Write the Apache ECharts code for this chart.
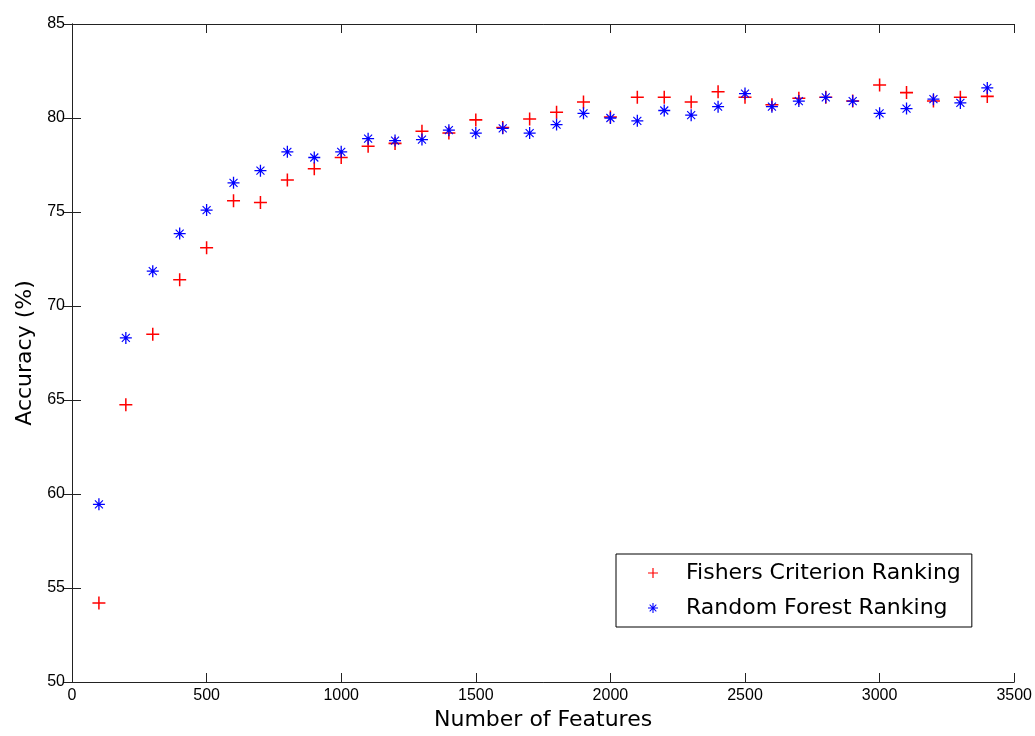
<!DOCTYPE html>
<html>
<head>
<meta charset="utf-8">
<script src="https://cdn.jsdelivr.net/npm/echarts@6/dist/echarts.min.js"></script>
<style>
  html, body { margin: 0; padding: 0; background: #fff; }
  #chart { width: 1035px; height: 736px; }
</style>
</head>
<body>
<div id="chart"></div>
<script>
// Number of selected features
const features = [100, 200, 300, 400, 500, 600, 700, 800, 900, 1000,
  1100, 1200, 1300, 1400, 1500, 1600, 1700, 1800, 1900, 2000,
  2100, 2200, 2300, 2400, 2500, 2600, 2700, 2800, 2900, 3000,
  3100, 3200, 3300, 3400];

// Accuracy (%) with features ranked by Fisher's criterion
const fisherAccuracy = [54.2, 64.75, 68.5, 71.4, 73.1, 75.6, 75.5, 76.7, 77.3, 77.9,
  78.5, 78.65, 79.3, 79.2, 79.9, 79.5, 79.95, 80.3, 80.85, 80.05,
  81.1, 81.1, 80.85, 81.4, 81.1, 80.7, 81.05, 81.1, 80.9, 81.75,
  81.35, 80.9, 81.1, 81.15];

// Accuracy (%) with features ranked by random forest importance
const forestAccuracy = [59.45, 68.3, 71.85, 73.85, 75.1, 76.55, 77.2, 78.2, 77.9, 78.2,
  78.9, 78.8, 78.85, 79.35, 79.2, 79.45, 79.2, 79.65, 80.25, 80.0,
  79.85, 80.4, 80.15, 80.6, 81.3, 80.6, 80.9, 81.1, 80.9, 80.25,
  80.5, 81.0, 80.8, 81.6];

const seriesNames = ['Fishers Criterion Ranking', 'Random Forest Ranking'];

// Marker shapes: a plus sign and an asterisk (plus with diagonals and a centre dot)
const plusPath = 'path://M5.3,0H6.7V12H5.3Z M0,5.3H12V6.7H0Z';
const starPath = 'path://M5.35,0H6.65V12H5.35Z M0,5.35H12V6.65H0Z ' +
  'M2.4,1.6L10.4,9.6L9.6,10.4L1.6,2.4Z M9.6,1.6L10.4,2.4L2.4,10.4L1.6,9.6Z ' +
  'M4.4,4.4H7.6V7.6H4.4Z';

const pairs = (xs, ys) => xs.map((x, i) => [x, ys[i]]);
const plainNumber = v => String(v);

const axisCommon = {
  axisLine: { show: true, lineStyle: { color: '#222', width: 1 } },
  axisTick: { show: true, inside: true, length: 9, lineStyle: { color: '#222', width: 1 } },
  splitLine: { show: false }
};

const labelFont = { fontFamily: 'Liberation Sans', fontSize: 16, color: '#000' };
const titleFont = { fontFamily: 'DejaVu Sans', fontSize: 22, color: '#000' };

const chart = echarts.init(document.getElementById('chart'), null, { renderer: 'canvas' });

chart.setOption({
  animation: false,
  backgroundColor: '#fff',
  grid: { left: 72, right: 18, top: 24, bottom: 52, containLabel: false },
  xAxis: [
    Object.assign({
      type: 'value', position: 'bottom', min: 0, max: 3500, interval: 500,
      name: 'Number of Features', nameLocation: 'middle', nameGap: 27,
      nameTextStyle: titleFont,
      axisLabel: Object.assign({ margin: 6, showMinLabel: true, showMaxLabel: true, formatter: plainNumber }, labelFont)
    }, axisCommon),
    Object.assign({
      type: 'value', position: 'top', min: 0, max: 3500, interval: 500,
      axisLabel: { show: false }
    }, axisCommon)
  ],
  yAxis: [
    Object.assign({
      type: 'value', position: 'left', min: 50, max: 85, interval: 5,
      name: 'Accuracy (%)', nameLocation: 'middle', nameGap: 36,
      nameTextStyle: titleFont,
      axisLabel: Object.assign({ margin: 7, showMinLabel: true, showMaxLabel: true, formatter: plainNumber }, labelFont)
    }, axisCommon),
    Object.assign({
      type: 'value', position: 'right', min: 50, max: 85, interval: 5,
      axisLabel: { show: false }
    }, axisCommon)
  ],
  legend: {
    orient: 'vertical',
    left: 616, top: 554,
    padding: [8, 11, 8, 32],
    itemWidth: 10, itemHeight: 10, itemGap: 13,
    borderColor: '#000', borderWidth: 1, backgroundColor: '#fff',
    textStyle: Object.assign({ padding: [0, 0, 0, 23] }, titleFont),
    data: [
      { name: seriesNames[0], icon: plusPath },
      { name: seriesNames[1], icon: starPath }
    ]
  },
  series: [
    {
      name: seriesNames[0], type: 'scatter',
      data: pairs(features, fisherAccuracy),
      symbol: plusPath, symbolSize: 13,
      itemStyle: { color: '#ff0000', opacity: 1 },
      z: 2
    },
    {
      name: seriesNames[1], type: 'scatter',
      data: pairs(features, forestAccuracy),
      symbol: starPath, symbolSize: 12,
      itemStyle: { color: '#0000ff', opacity: 1 },
      z: 3
    }
  ]
});
</script>
</body>
</html>
